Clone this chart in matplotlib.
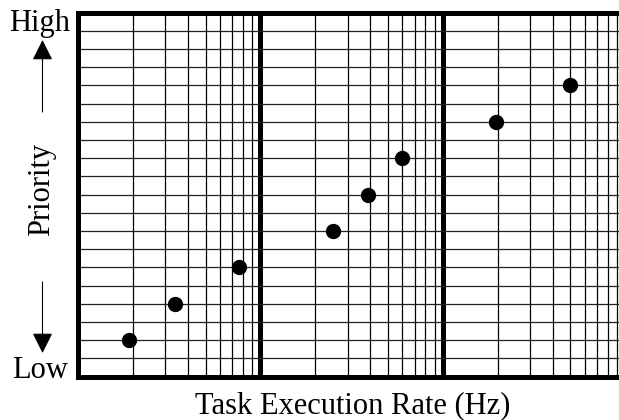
import numpy as np
import matplotlib
matplotlib.use('Agg')
import matplotlib.pyplot as plt
from matplotlib.ticker import LogLocator, MultipleLocator, NullFormatter

# task rates (Hz) and their assigned priority level (0 = low, 20 = high)
rates = [1.9, 3.4, 7.6, 25, 39, 60, 195, 500]
priority = [2, 4, 6, 8, 10, 12, 14, 16]

plt.rcParams['font.family'] = ['Liberation Serif', 'DejaVu Serif']

fig = plt.figure(figsize=(6.19, 4.2), dpi=100)
W, H = 619, 420
ax = fig.add_axes([78 / W, (H - 376.5) / H, 1 - 78 / W, 364 / H])

ax.set_xscale('log')
ax.set_xlim(1, 10 ** 2.965)
ax.set_ylim(0, 20)

ax.xaxis.set_major_locator(LogLocator(base=10, subs=(1.0,)))
ax.xaxis.set_minor_locator(LogLocator(base=10, subs=np.arange(2, 10)))
ax.yaxis.set_major_locator(MultipleLocator(1))
ax.xaxis.set_minor_formatter(NullFormatter())
ax.set_xticklabels([])
ax.set_yticklabels([])
ax.tick_params(which='both', length=0)

ax.grid(True, which='major', axis='x', color='black', linewidth=3.6)
ax.grid(True, which='minor', axis='x', color='black', linewidth=0.9)
ax.grid(True, which='major', axis='y', color='#222222', linewidth=0.9)
ax.set_axisbelow(True)

for s in ['left', 'bottom', 'top']:
    ax.spines[s].set_linewidth(3.6)
ax.spines['right'].set_visible(False)

ax.plot(rates, priority, 'o', color='black', markersize=10, zorder=5, clip_on=False)

# y axis annotations
fig.text(40 / W, (H - 30.5) / H, 'High', fontsize=22, ha='center', va='baseline')
fig.text(40 / W, (H - 378) / H, 'Low', fontsize=22, ha='center', va='baseline')
fig.text(42 / W, (H - 189) / H, 'Priority', fontsize=22, rotation=90, ha='center', va='center')

arrow = dict(arrowstyle='-|>,head_length=0.9,head_width=0.45', mutation_scale=14,
             color='black', lw=0.8, shrinkA=0, shrinkB=0)
ax.annotate('', xy=(42.5 / W, (H - 40) / H), xytext=(42.5 / W, (H - 112) / H),
            xycoords='figure fraction', textcoords='figure fraction',
            arrowprops=arrow, annotation_clip=False)
ax.annotate('', xy=(42.5 / W, (H - 353) / H), xytext=(42.5 / W, (H - 282) / H),
            xycoords='figure fraction', textcoords='figure fraction',
            arrowprops=arrow, annotation_clip=False)

fig.text(353 / W, (H - 413.5) / H, 'Task Execution Rate (Hz)', fontsize=22,
         ha='center', va='baseline')

fig.savefig('out.png', dpi=100)
